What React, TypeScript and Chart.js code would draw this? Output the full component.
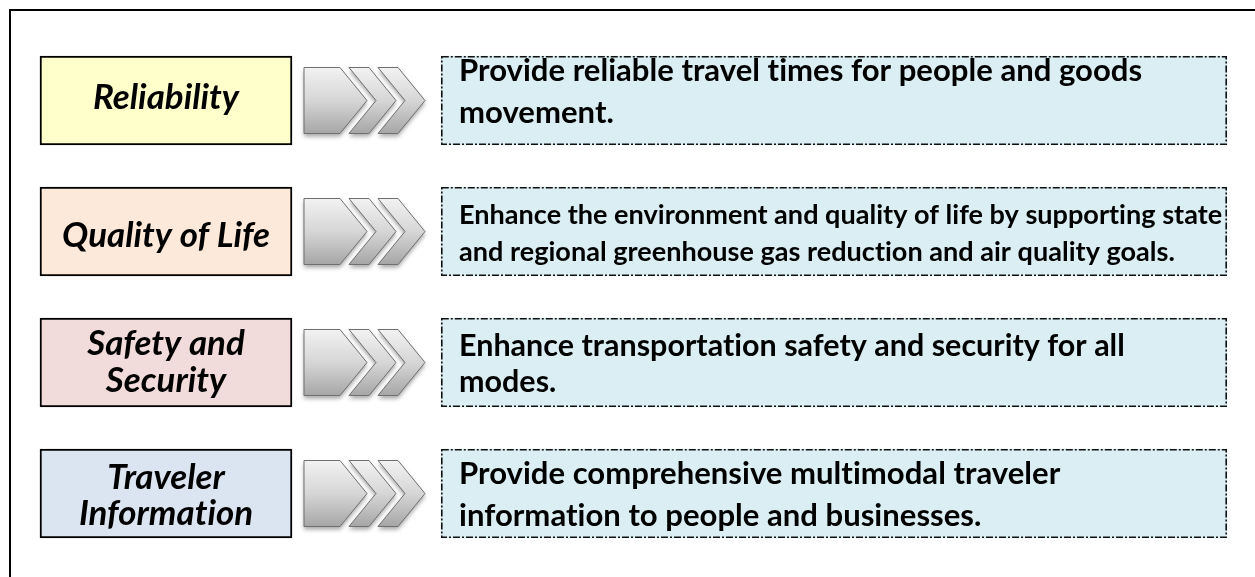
import React, { useEffect, useRef } from "react";
import { Chart, registerables } from "chart.js";

Chart.register(...registerables);

// ---- data ----
const rows = ["Reliability", "Quality of Life", "Safety and Security", "Traveler Information"];
const labelLines = [["Reliability"], ["Quality of Life"], ["Safety and", "Security"], ["Traveler", "Information"]];
const goalLines = [
  ["Provide reliable travel times for people and goods", "movement."],
  ["Enhance the environment and quality of life by supporting state", "and regional greenhouse gas reduction and air quality goals."],
  ["Enhance transportation safety and security for all", "modes."],
  ["Provide comprehensive multimodal traveler", "information to people and businesses."],
];
const labelRange = [40, 292];
const arrowRange = [304, 427];
const goalRange = [441, 1227];
const labelColors = ["#FFFFCC", "#FDE9D9", "#F2DCDB", "#DBE5F1"];
const goalColor = "#DAEEF3";

// ---- styling ----
const LABEL_FAMILY = "Lato, 'Open Sans', sans-serif";
const GOAL_FAMILY = "Lato, 'Open Sans', sans-serif";
const labelBaselines = [[8], [15], [-8, 29], [-5, 31]];
const goalBaselines = [[-20, 22], [-8, 29], [-7, 29], [-10, 32]];
const goalTargetWidth = [683, 763, 670, 683];

function noLig(ctx: any) {
  try {
    ctx.letterSpacing = "0.01px";
  } catch (e) {}
}

function fitSize(ctx: CanvasRenderingContext2D, text: string, style: string, family: string, target: number) {
  ctx.save();
  noLig(ctx);
  ctx.font = `${style} 100px ${family}`;
  const w = ctx.measureText(text).width;
  ctx.restore();
  return (100 * target) / w;
}

function barBox(el: any) {
  const p = el.getProps(["x", "y", "base", "height"], true);
  const left = Math.min(p.x, p.base);
  const right = Math.max(p.x, p.base);
  return { left, right, top: p.y - p.height / 2, bottom: p.y + p.height / 2, cy: p.y };
}

function drawChevrons(ctx: CanvasRenderingContext2D, b: { left: number; right: number; top: number; bottom: number; cy: number }) {
  const W = b.right - b.left;
  const s = W / 123;
  const d = 27 * s;
  const x0 = b.left;
  const t = b.top;
  const bt = b.bottom;
  const cy = b.cy;
  const shapes: number[][][] = [];
  shapes.push([
    [x0, t],
    [x0 + 36 * s, t],
    [x0 + 36 * s + d, cy],
    [x0 + 36 * s, bt],
    [x0, bt],
  ]);
  [45, 74].forEach((o) => {
    const l = x0 + o * s;
    const w = 20 * s;
    shapes.push([
      [l, t],
      [l + w, t],
      [l + w + d, cy],
      [l + w, bt],
      [l, bt],
      [l + d, cy],
    ]);
  });
  shapes.forEach((pts) => {
    ctx.save();
    const g = ctx.createLinearGradient(0, t, 0, bt);
    g.addColorStop(0, "#f2f2f2");
    g.addColorStop(0.5, "#d6d6d6");
    g.addColorStop(1, "#a6a6a6");
    ctx.beginPath();
    pts.forEach((p, i) => (i === 0 ? ctx.moveTo(p[0], p[1]) : ctx.lineTo(p[0], p[1])));
    ctx.closePath();
    ctx.shadowColor = "rgba(0,0,0,0.35)";
    ctx.shadowBlur = 4;
    ctx.shadowOffsetY = 3;
    ctx.fillStyle = g;
    ctx.fill();
    ctx.shadowColor = "transparent";
    ctx.lineWidth = 1;
    ctx.strokeStyle = "#707070";
    ctx.stroke();
    ctx.restore();
  });
}

const diagramPlugin = {
  id: "diagram",
  beforeDraw(chart: any) {
    const ctx: CanvasRenderingContext2D = chart.ctx;
    ctx.save();
    ctx.fillStyle = "#ffffff";
    ctx.fillRect(0, 0, chart.width, chart.height);
    ctx.strokeStyle = "#000";
    ctx.lineWidth = 2;
    ctx.beginPath();
    ctx.moveTo(10, chart.height);
    ctx.lineTo(10, 10);
    ctx.lineTo(chart.width, 10);
    ctx.stroke();
    ctx.restore();
  },
  afterDatasetsDraw(chart: any) {
    const ctx: CanvasRenderingContext2D = chart.ctx;
    // arrows
    chart.getDatasetMeta(1).data.forEach((el: any) => drawChevrons(ctx, barBox(el)));
    // dashed goal borders
    chart.getDatasetMeta(2).data.forEach((el: any) => {
      const b = barBox(el);
      ctx.save();
      ctx.setLineDash([7, 2, 2, 2]);
      ctx.lineWidth = 1.6;
      ctx.strokeStyle = "#111";
      ctx.strokeRect(b.left + 0.8, b.top + 0.8, b.right - b.left - 1.6, b.bottom - b.top - 1.6);
      ctx.restore();
    });
    // label text
    const labelSize = fitSize(ctx, "Reliability", "italic bold", LABEL_FAMILY, 146);
    chart.getDatasetMeta(0).data.forEach((el: any, i: number) => {
      const b = barBox(el);
      ctx.save();
      noLig(ctx);
      ctx.font = `italic bold ${labelSize}px ${LABEL_FAMILY}`;
      ctx.fillStyle = "#000";
      ctx.textAlign = "center";
      ctx.textBaseline = "alphabetic";
      labelLines[i].forEach((line, j) => {
        ctx.fillText(line, (b.left + b.right) / 2, b.cy + labelBaselines[i][j]);
      });
      ctx.restore();
    });
    // goal text
    chart.getDatasetMeta(2).data.forEach((el: any, i: number) => {
      const b = barBox(el);
      const ref = i === 1 ? goalLines[1][0] : goalLines[0][0];
      const size = fitSize(ctx, ref, "bold", GOAL_FAMILY, goalTargetWidth[i]);
      ctx.save();
      noLig(ctx);
      ctx.font = `bold ${size}px ${GOAL_FAMILY}`;
      ctx.fillStyle = "#000";
      ctx.textAlign = "left";
      ctx.textBaseline = "alphabetic";
      goalLines[i].forEach((line, j) => {
        ctx.fillText(line, b.left + 18, b.cy + goalBaselines[i][j]);
      });
      ctx.restore();
    });
  },
};

export default function App() {
  const ref = useRef<HTMLCanvasElement | null>(null);
  useEffect(() => {
    if (!ref.current) return;
    const chart = new Chart(ref.current, {
      type: "bar",
      data: {
        labels: rows,
        datasets: [
          {
            label: "Objective",
            data: rows.map(() => labelRange) as any,
            backgroundColor: labelColors,
            borderColor: "#000",
            borderWidth: 2,
            borderSkipped: false,
            barThickness: 89,
            grouped: false,
          } as any,
          {
            label: "Arrow",
            data: rows.map(() => arrowRange) as any,
            backgroundColor: "rgba(0,0,0,0)",
            borderWidth: 0,
            barThickness: 66,
            grouped: false,
          } as any,
          {
            label: "Goal",
            data: rows.map(() => goalRange) as any,
            backgroundColor: goalColor,
            borderWidth: 0,
            barThickness: 89,
            grouped: false,
          } as any,
        ],
      },
      options: {
        indexAxis: "y",
        responsive: false,
        animation: false,
        events: [],
        layout: { padding: { top: 35, bottom: 18, left: 0, right: 0 } },
        scales: {
          x: { type: "linear", min: 0, max: 1255, display: false },
          y: { display: false },
        },
        plugins: { legend: { display: false }, tooltip: { enabled: false } },
      },
      plugins: [diagramPlugin],
    });
    return () => chart.destroy();
  }, []);
  return (
    <div style={{ position: "fixed", left: 0, top: 0, width: 1255, height: 577, background: "#fff" }}>
      <canvas ref={ref} width={1255} height={577} style={{ display: "block", width: 1255, height: 577 }} />
    </div>
  );
}
